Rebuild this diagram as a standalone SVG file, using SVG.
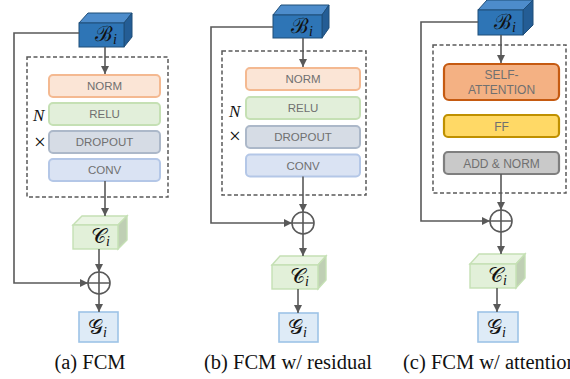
<svg xmlns="http://www.w3.org/2000/svg" width="570" height="379" viewBox="0 0 570 379">
  <style>
    .ln { fill: none; stroke: #595959; stroke-width: 1.6; }
    .dash { fill: none; stroke: #595959; stroke-width: 1.5; stroke-dasharray: 4 2.5; }
    .lbl { font-family: "Liberation Sans", Arial, sans-serif; fill: #707070; text-anchor: middle; }
    .math { font-family: "DejaVu Serif", "Liberation Serif", serif; fill: #111; font-size: 21px; }
    .sub { font-family: "Liberation Serif", serif; font-style: italic; fill: #111; font-size: 14px; }
    .cap { font-family: "Liberation Serif", "Times New Roman", serif; font-size: 20.5px; fill: #111; text-anchor: middle; }
    .rep { font-family: "Liberation Serif", serif; font-style: italic; font-size: 17px; fill: #111; }
    .times { font-family: "Liberation Serif", serif; font-size: 21px; fill: #111; }
    .norm { fill: #fbe5d6; stroke: #f4b991; stroke-width: 2; }
    .relu { fill: #e2efda; stroke: #c5e0b4; stroke-width: 2; }
    .drop { fill: #d6dce5; stroke: #acb8c9; stroke-width: 2; }
    .conv { fill: #dae3f3; stroke: #b4c7e7; stroke-width: 2; }
    .att { fill: #f4b183; stroke: #c55a11; stroke-width: 2.2; }
    .ff { fill: #ffd966; stroke: #bf9000; stroke-width: 2.2; }
    .add { fill: #c9c9c9; stroke: #7f7f7f; stroke-width: 2.2; }
    .bF { fill: #2e75b6; stroke: #1f4e79; stroke-width: 1; }
    .bT { fill: #4d8ccb; stroke: #1f4e79; stroke-width: 1; }
    .bS { fill: #245d95; stroke: #1f4e79; stroke-width: 1; }
    .cF { fill: #e2f0d9; stroke: #c5e0b4; stroke-width: 1.4; }
    .cT { fill: #ebf5e4; stroke: #c5e0b4; stroke-width: 1.4; }
    .cS { fill: #bfcfb4; stroke: #c5e0b4; stroke-width: 1.4; }
    .g { fill: #deebf7; stroke: #9dc3e6; stroke-width: 1.6; }
    .sum { fill: none; stroke: #595959; stroke-width: 1.6; }
  </style>
  <defs>
    <marker id="ah" viewBox="0 0 10 10" refX="10" refY="5" markerWidth="5.2" markerHeight="5.2" orient="auto" markerUnits="strokeWidth">
      <path d="M0,0 L10,5 L0,10 z" fill="#595959"/>
    </marker>
  </defs>

  <!-- ===== (a) FCM ===== -->
  <g id="a-box">
    <rect class="dash" x="27" y="57" width="141" height="140"/>
  </g>
  <g id="a-B">
    <polygon class="bT" points="79,23 88,13 132,13 124,23"/>
    <polygon class="bS" points="124,23 132,13 132,37 124,47"/>
    <rect class="bF" x="79" y="23" width="45" height="24"/>
    <text class="math" x="95" y="41">ℬ<tspan class="sub" dy="3">i</tspan></text>
  </g>
  <g id="a-norm"><rect class="norm" x="49" y="75" width="111" height="22" rx="4"/><text class="lbl" x="104.5" y="90.2" font-size="11.5">NORM</text></g>
  <g id="a-relu"><rect class="relu" x="49" y="103" width="111" height="22" rx="4"/><text class="lbl" x="104.5" y="118.2" font-size="11.5">RELU</text></g>
  <g id="a-drop"><rect class="drop" x="49" y="131" width="111" height="22" rx="4"/><text class="lbl" x="104.5" y="146.2" font-size="11.5">DROPOUT</text></g>
  <g id="a-conv"><rect class="conv" x="49" y="159" width="111" height="22" rx="4"/><text class="lbl" x="104.5" y="174.2" font-size="11.5">CONV</text></g>
  <g id="a-rep">
    <text class="rep" x="33" y="121">N</text>
    <text class="times" x="34" y="149">×</text>
  </g>
  <g id="a-C">
    <polygon class="cT" points="73,225 82,216 127,216 118,225"/>
    <polygon class="cS" points="118,225 127,216 127,240 118,249"/>
    <rect class="cF" x="73" y="225" width="45" height="24"/>
    <text class="math" x="91" y="243">𝒞<tspan class="sub" dy="3">i</tspan></text>
  </g>
  <g id="a-sum">
    <circle class="sum" cx="99" cy="283" r="11"/>
    <path class="sum" d="M88,283 H110 M99,272 V294"/>
  </g>
  <g id="a-G">
    <rect class="g" x="79" y="312" width="39" height="30"/>
    <text class="math" x="88" y="334">𝒢<tspan class="sub" dy="3">i</tspan></text>
  </g>
  <text class="cap" x="90" y="369">(a) FCM</text>

  <!-- ===== (b) FCM w/ residual ===== -->
  <g id="b-box">
    <rect class="dash" x="222" y="51" width="144" height="144"/>
  </g>
  <g id="b-B">
    <polygon class="bT" points="273,15 281,5 329,5 322,15"/>
    <polygon class="bS" points="322,15 329,5 329,28 322,38"/>
    <rect class="bF" x="273" y="15" width="49" height="23"/>
    <text class="math" x="291" y="33">ℬ<tspan class="sub" dy="3">i</tspan></text>
  </g>
  <g id="b-norm"><rect class="norm" x="246" y="68" width="114" height="22" rx="4"/><text class="lbl" x="303" y="83.2" font-size="11.5">NORM</text></g>
  <g id="b-relu"><rect class="relu" x="246" y="97" width="114" height="22" rx="4"/><text class="lbl" x="303" y="112.2" font-size="11.5">RELU</text></g>
  <g id="b-drop"><rect class="drop" x="246" y="126" width="114" height="22" rx="4"/><text class="lbl" x="303" y="141.2" font-size="11.5">DROPOUT</text></g>
  <g id="b-conv"><rect class="conv" x="246" y="154.5" width="114" height="22" rx="4"/><text class="lbl" x="303" y="169.7" font-size="11.5">CONV</text></g>
  <g id="b-rep">
    <text class="rep" x="229" y="116.5">N</text>
    <text class="times" x="229" y="143">×</text>
  </g>
  <g id="b-sum">
    <circle class="sum" cx="303" cy="223" r="11"/>
    <path class="sum" d="M292,223 H314 M303,212 V234"/>
  </g>
  <g id="b-C">
    <polygon class="cT" points="272,265 280,256 326,256 318,265"/>
    <polygon class="cS" points="318,265 326,256 326,280 318,289"/>
    <rect class="cF" x="272" y="265" width="46" height="24"/>
    <text class="math" x="290" y="283">𝒞<tspan class="sub" dy="3">i</tspan></text>
  </g>
  <g id="b-G">
    <rect class="g" x="279" y="313" width="39" height="29"/>
    <text class="math" x="288" y="334">𝒢<tspan class="sub" dy="3">i</tspan></text>
  </g>
  <text class="cap" x="288" y="369">(b) FCM w/ residual</text>

  <!-- ===== (c) FCM w/ attention ===== -->
  <g id="c-box">
    <rect class="dash" x="433" y="45" width="133" height="148"/>
  </g>
  <g id="c-B">
    <polygon class="bT" points="478,10 487,0 533,0 523,10"/>
    <polygon class="bS" points="523,10 533,0 533,25 523,35"/>
    <rect class="bF" x="478" y="10" width="45" height="25"/>
    <text class="math" x="494" y="29">ℬ<tspan class="sub" dy="3">i</tspan></text>
  </g>
  <g id="c-att"><rect class="att" x="444" y="64" width="115" height="36" rx="5"/><text class="lbl" x="501.5" y="79" font-size="12">SELF-</text><text class="lbl" x="501.5" y="94" font-size="12">ATTENTION</text></g>
  <g id="c-ff"><rect class="ff" x="444" y="115" width="115" height="22" rx="4"/><text class="lbl" x="501.5" y="130.5" font-size="12">FF</text></g>
  <g id="c-add"><rect class="add" x="444" y="152" width="115" height="22" rx="4"/><text class="lbl" x="501.5" y="167.5" font-size="12">ADD &amp; NORM</text></g>
  <g id="c-sum">
    <circle class="sum" cx="501" cy="221" r="11"/>
    <path class="sum" d="M490,221 H512 M501,210 V232"/>
  </g>
  <g id="c-C">
    <polygon class="cT" points="470,264 479,254 525,254 516,264"/>
    <polygon class="cS" points="516,264 525,254 525,278 516,288"/>
    <rect class="cF" x="470" y="264" width="46" height="24"/>
    <text class="math" x="488" y="282">𝒞<tspan class="sub" dy="3">i</tspan></text>
  </g>
  <g id="c-G">
    <rect class="g" x="478" y="312" width="40" height="30"/>
    <text class="math" x="487" y="334">𝒢<tspan class="sub" dy="3">i</tspan></text>
  </g>
  <text class="cap" x="403" y="369" style="text-anchor:start">(c) FCM w/ attention</text>

  <!-- ===== connectors ===== -->
  <g id="connectors">
    <!-- (a) -->
    <path class="ln" d="M105,47 V74" marker-end="url(#ah)"/>
    <path class="ln" d="M105,181 V216" marker-end="url(#ah)"/>
    <path class="ln" d="M99,249 V272" marker-end="url(#ah)"/>
    <path class="ln" d="M99,294 V312" marker-end="url(#ah)"/>
    <path class="ln" d="M79,33 H14 V283 H88" marker-end="url(#ah)"/>
    <!-- (b) -->
    <path class="ln" d="M303,38 V67" marker-end="url(#ah)"/>
    <path class="ln" d="M303,176.5 V212" marker-end="url(#ah)"/>
    <path class="ln" d="M303,234 V256" marker-end="url(#ah)"/>
    <path class="ln" d="M298,289 V313" marker-end="url(#ah)"/>
    <path class="ln" d="M273,27 H211 V223 H292" marker-end="url(#ah)"/>
    <!-- (c) -->
    <path class="ln" d="M501,35 V63" marker-end="url(#ah)"/>
    <path class="ln" d="M501,174 V210" marker-end="url(#ah)"/>
    <path class="ln" d="M501,232 V254" marker-end="url(#ah)"/>
    <path class="ln" d="M497,288 V312" marker-end="url(#ah)"/>
    <path class="ln" d="M478,22 H421 V221 H490" marker-end="url(#ah)"/>
  </g>
</svg>
